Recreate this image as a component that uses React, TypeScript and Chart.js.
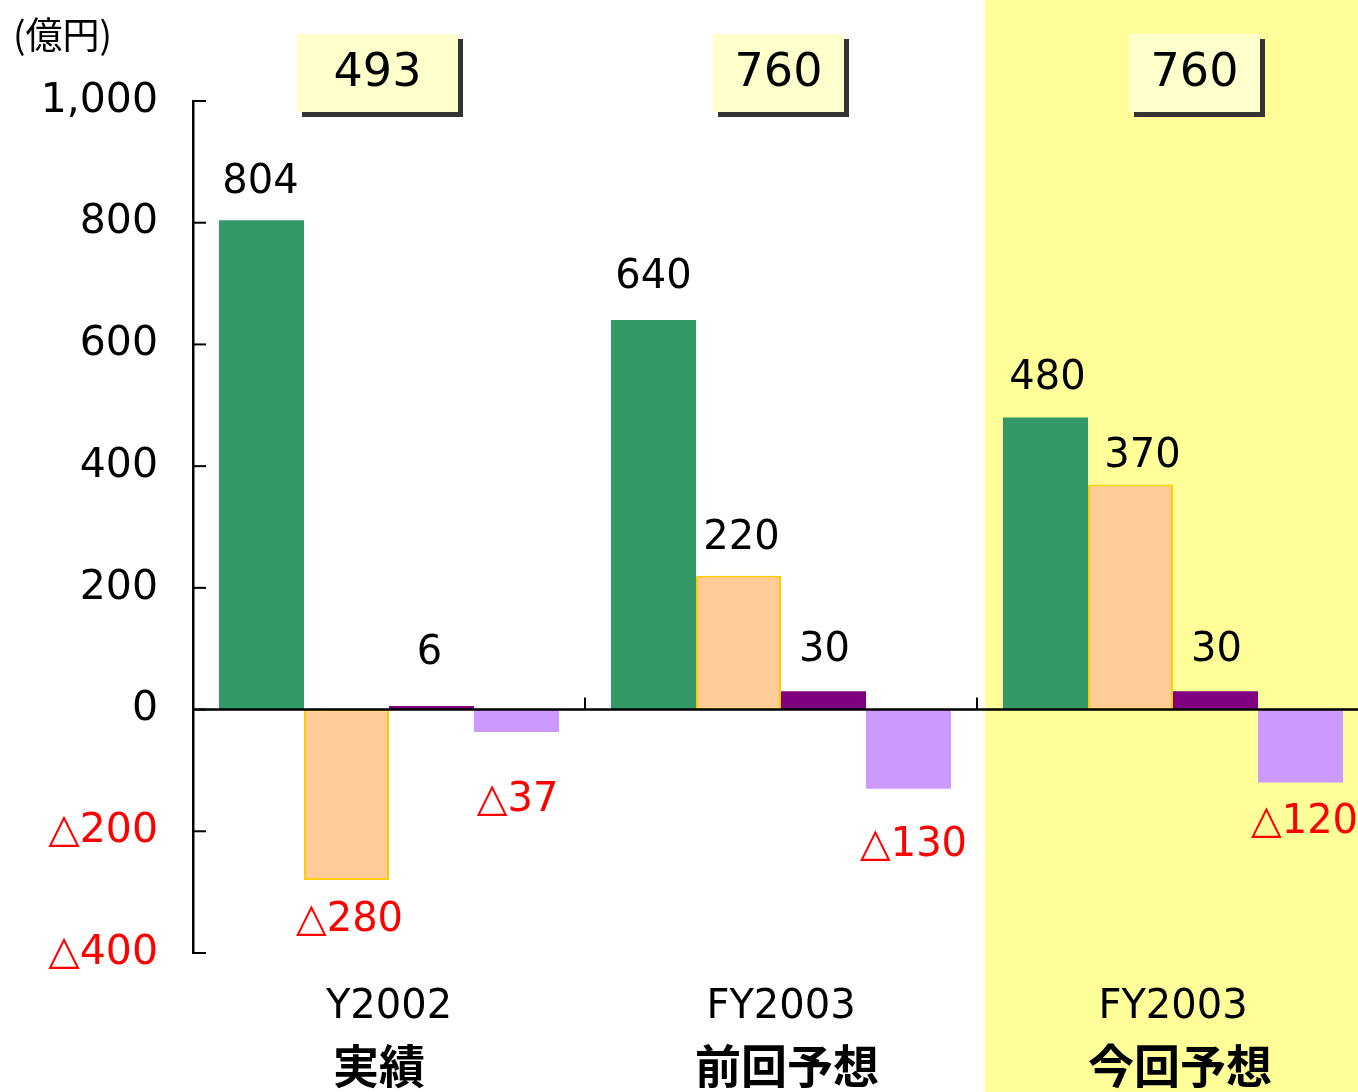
import React, { useEffect, useRef } from "react";
import { Chart, registerables } from "chart.js";

Chart.register(...registerables);

// ---- data ----
const categories = ["Y2002", "FY2003", "FY2003"];
const subLabels = ["実績", "前回予想", "今回予想"];
const totals = [493, 760, 760];
const seriesGreen = [804, 640, 480];
const seriesOrange = [-280, 220, 370];
const seriesPurple = [6, 30, 30];
const seriesLavender = [-37, -130, -120];
const yTickValues = [-400, -200, 0, 200, 400, 600, 800, 1000];
const unitLabel = "(億円)";
const highlightIndex = 2;

// ---- layout / style constants ----
const FONT = '"DejaVu Sans", "Noto Sans CJK JP", sans-serif';
const CJK = '"Noto Sans CJK JP", sans-serif';
const colors = ["#339966", "#FFCC99", "#800080", "#CC99FF"];
// label gap from bar end (px) and horizontal nudge, per dataset per category
const labelGap = [
  [38, 42, 39],
  [41, 37, 28],
  [52, 41, 41],
  [69, 57, 40],
];
const labelDx = [
  [-1, 0, 2],
  [3, 3, 12],
  [-2, 1, 1],
  [1, 5, 4],
];
const boxDx = [-11.5, -2.5, 21.5];
const boxW = [161, 131, 131];
const subDx = [-10, 6, 7];

function fmtTick(v: number): string {
  if (v < 0) return "△" + String(-v);
  if (v >= 1000) return v.toLocaleString("en-US");
  return String(v);
}

const overlay = {
  id: "overlay",
  beforeDraw(chart: any) {
    const { ctx, chartArea, scales } = chart;
    const gw = (chartArea.right - chartArea.left) / categories.length;
    const start = scales.x.getPixelForValue(highlightIndex) - gw / 2 + 8;
    ctx.save();
    ctx.fillStyle = "#FFFF99";
    ctx.fillRect(start, 0, chart.width - start, chart.height);
    ctx.restore();
  },
  afterDatasetsDraw(chart: any) {
    const { ctx, chartArea, scales } = chart;
    const xs = scales.x;
    const ys = scales.y;
    const y0 = ys.getPixelForValue(0);
    const gw = (chartArea.right - chartArea.left) / categories.length;
    ctx.save();
    // zero line
    ctx.strokeStyle = "#000";
    ctx.lineWidth = 2.5;
    ctx.beginPath();
    ctx.moveTo(chartArea.left, y0);
    ctx.lineTo(chartArea.right, y0);
    ctx.stroke();
    // category divider ticks
    ctx.lineWidth = 2;
    for (let k = 1; k <= categories.length; k++) {
      const x = chartArea.left + k * gw;
      ctx.beginPath();
      ctx.moveTo(x, y0);
      ctx.lineTo(x, y0 - 12);
      ctx.stroke();
    }
    // y tick marks (inward)
    for (const v of yTickValues) {
      const y = ys.getPixelForValue(v);
      ctx.beginPath();
      ctx.moveTo(chartArea.left, y);
      ctx.lineTo(chartArea.left + 13, y);
      ctx.stroke();
    }
    // data labels
    ctx.font = `40px ${FONT}`;
    ctx.textAlign = "center";
    ctx.textBaseline = "middle";
    chart.data.datasets.forEach((ds: any, di: number) => {
      const meta = chart.getDatasetMeta(di);
      meta.data.forEach((el: any, j: number) => {
        const v = ds.data[j];
        const x = el.x + labelDx[di][j];
        if (v >= 0) {
          ctx.fillStyle = "#000";
          ctx.fillText(String(v), x, el.y - labelGap[di][j]);
        } else {
          ctx.fillStyle = "#FF0000";
          ctx.fillText("△" + String(-v), x, el.y + labelGap[di][j]);
        }
      });
    });
    // total boxes
    totals.forEach((t, i) => {
      const cx = xs.getPixelForValue(i) + boxDx[i];
      const w = boxW[i];
      const top = chartArea.top - 67;
      const h = 78;
      ctx.fillStyle = "#333333";
      ctx.fillRect(cx - w / 2 + 5, top + 5, w, h);
      ctx.fillStyle = "#FFFFCC";
      ctx.fillRect(cx - w / 2, top, w, h);
      ctx.fillStyle = "#000";
      ctx.font = `46px ${FONT}`;
      ctx.fillText(String(t), cx, top + h / 2 + 1);
    });
    // second line of category labels
    ctx.font = `bold 46px ${CJK}`;
    ctx.fillStyle = "#000";
    subLabels.forEach((s, i) => {
      ctx.fillText(s, xs.getPixelForValue(i) + subDx[i], chartArea.bottom + 113);
    });
    // unit label
    ctx.textAlign = "left";
    ctx.font = `37px ${CJK}`;
    ctx.fillText(unitLabel, 13, 35);
    ctx.restore();
  },
};

export default function App() {
  const ref = useRef<HTMLCanvasElement | null>(null);
  useEffect(() => {
    if (!ref.current) return;
    const chart = new Chart(ref.current, {
      type: "bar",
      data: {
        labels: categories,
        datasets: [
          { data: seriesGreen, backgroundColor: colors[0], borderWidth: 0 },
          {
            data: seriesOrange,
            backgroundColor: colors[1],
            borderColor: "#FFCC00",
            borderWidth: 2,
            borderSkipped: false,
          },
          { data: seriesPurple, backgroundColor: colors[2], borderWidth: 0 },
          { data: seriesLavender, backgroundColor: colors[3], borderWidth: 0 },
        ],
      },
      options: {
        animation: false,
        responsive: false,
        maintainAspectRatio: false,
        devicePixelRatio: 1,
        layout: { padding: { top: 101, right: 1, bottom: 0, left: 0 } },
        datasets: { bar: { categoryPercentage: 340 / 392, barPercentage: 1 } },
        plugins: {
          legend: { display: false },
          tooltip: { enabled: false },
          title: { display: false },
        },
        scales: {
          x: {
            grid: { display: false },
            border: { display: false },
            ticks: {
              color: "#000",
              font: { family: FONT, size: 40 },
              padding: 23,
              maxRotation: 0,
              autoSkip: false,
            },
            afterFit: (s: any) => {
              s.height = 139;
            },
          },
          y: {
            min: -400,
            max: 1000,
            afterBuildTicks: (s: any) => {
              s.ticks = yTickValues.map((v) => ({ value: v }));
            },
            grid: { display: false },
            border: { display: true, color: "#000", width: 2.5 },
            ticks: {
              padding: 27,
              color: (c: any) => (c.tick && c.tick.value < 0 ? "#FF0000" : "#000"),
              font: { family: FONT, size: 41 },
              callback: (v: any) => fmtTick(Number(v)),
            },
            afterFit: (s: any) => {
              s.width = 193;
            },
          },
        },
      },
      plugins: [overlay],
    });
    return () => chart.destroy();
  }, []);
  return (
    <div
      style={{
        position: "absolute",
        left: 0,
        top: 0,
        width: 1358,
        height: 1092,
        overflow: "hidden",
        background: "#fff",
      }}
    >
      <canvas ref={ref} width={1370} height={1092} style={{ display: "block" }} />
    </div>
  );
}
